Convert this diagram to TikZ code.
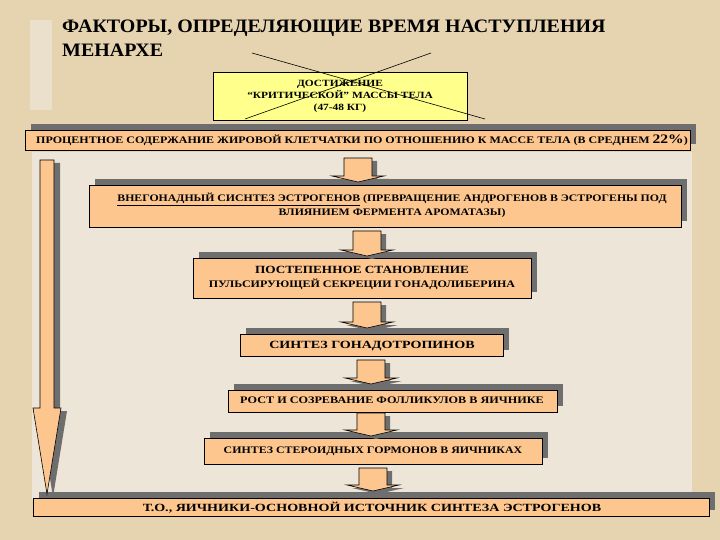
\documentclass[tikz,border=0pt]{standalone}
\usepackage{fontspec}
\usepackage{graphicx}
\setmainfont{Liberation Serif}
\usetikzlibrary{calc}
\definecolor{bgc}{HTML}{E6D3B0}
\definecolor{panel}{HTML}{EDE6D8}
\definecolor{peach}{HTML}{FDC68E}
\definecolor{shad}{HTML}{6E6E6E}
\definecolor{yel}{HTML}{FFFF8C}
\tikzset{
  bx/.style={draw=black,line width=0.6pt,fill=peach},
  sh/.style={fill=shad},
  txt/.style={font=\bfseries,align=center,inner sep=0pt},
}
\newcommand\T[4]{\scalebox{#2}[1]{\fontsize{#1}{#3}\selectfont\begin{tabular}{@{}c@{}}#4\end{tabular}}}
\newcommand\mybox[5]{%
  \fill[sh] (#2+6,#3-6) rectangle (#4+6,#5-6);
  \draw[bx] (#2,#3) rectangle (#4,#5);
  \coordinate (#1) at ({(#2+#4)/2},{(#3+#5)/2});}
\newcommand\barr[3]{%
  \foreach \dx/\dy/\st in {5/3/sh,0/0/bx}{
  \path[\st] (#1-14+\dx,#2+\dy) -- (#1+14+\dx,#2+\dy) -- (#1+14+\dx,#3-6+\dy) -- (#1+26+\dx,#3-6+\dy)
   -- (#1+\dx,#3+\dy) -- (#1-26+\dx,#3-6+\dy) -- (#1-14+\dx,#3-6+\dy) -- cycle;}}
\begin{document}
\begin{tikzpicture}[x=1pt,y=-1pt]
\fill[bgc] (0,0) rectangle (720,540);
\useasboundingbox (0,0) rectangle (720,540);
\fill[panel!70!bgc] (30,20) rectangle (52,110);
\fill[panel] (32,152) rectangle (692,500);
\node[anchor=north west,txt,align=left] (title) at (62,16)
 {\scalebox{1.05}[1]{\fontsize{19}{24}\selectfont\begin{tabular}{@{}l@{}}ФАКТОРЫ, ОПРЕДЕЛЯЮЩИЕ ВРЕМЯ НАСТУПЛЕНИЯ\\МЕНАРХЕ\end{tabular}}};
\draw[fill=yel,line width=0.6pt] (213,72) rectangle (467,120);
\node[txt] (mass) at (340,96) {\T{9.5}{1.2}{12}{ДОСТИЖЕНИЕ\\“КРИТИЧЕСКОЙ” МАССЫ ТЕЛА\\(47-48 КГ)}};
\draw[line width=0.6pt] (252,53) -- (485,119);
\draw[line width=0.6pt] (431,53) -- (245,119);
\mybox{b1}{25}{130}{690}{150}
\node[txt] (t1) at (362,141) {\T{10}{1.2}{12}{ПРОЦЕНТНОЕ СОДЕРЖАНИЕ ЖИРОВОЙ КЛЕТЧАТКИ ПО ОТНОШЕНИЮ К МАССЕ ТЕЛА (В СРЕДНЕМ {\fontsize{13}{13}\selectfont 22\%})}};
\mybox{b2}{89}{185}{681}{227}
\node[txt] (t2) at (392,206) {\T{10}{1.18}{13}{\underline{ВНЕГОНАДНЫЙ СИСНТЕЗ ЭСТРОГЕНОВ} (ПРЕВРАЩЕНИЕ АНДРОГЕНОВ В ЭСТРОГЕНЫ ПОД\\ВЛИЯНИЕМ ФЕРМЕНТА АРОМАТАЗЫ)}};
\mybox{b3}{193}{258}{531}{298}
\node[txt] (t3) at (362,278) {\T{10}{1.2}{14}{{\fontsize{11}{12}\selectfont ПОСТЕПЕННОЕ СТАНОВЛЕНИЕ}\\ПУЛЬСИРУЮЩЕЙ СЕКРЕЦИИ ГОНАДОЛИБЕРИНА}};
\mybox{b4}{240}{334}{503}{356}
\node[txt] (t4) at (372,346) {\T{11}{1.28}{12}{СИНТЕЗ ГОНАДОТРОПИНОВ}};
\mybox{b5}{228}{390}{557}{412}
\node[txt] (t5) at (392,401) {\T{10}{1.22}{12}{РОСТ И СОЗРЕВАНИЕ ФОЛЛИКУЛОВ В ЯИЧНИКЕ}};
\mybox{b6}{204}{438}{542}{464}
\node[txt] (t6) at (373,451) {\T{10}{1.19}{12}{СИНТЕЗ СТЕРОИДНЫХ ГОРМОНОВ В ЯИЧНИКАХ}};
\mybox{b7}{33}{498}{709}{516}
\node[txt] (t7) at (372,509) {\T{11}{1.28}{12}{Т.О., ЯИЧНИКИ-ОСНОВНОЙ ИСТОЧНИК СИНТЕЗА ЭСТРОГЕНОВ}};
\barr{358}{158}{182}
\barr{367}{231}{256}
\barr{367}{302}{328}
\barr{371}{360}{384}
\barr{371}{413}{436}
\barr{373}{468}{491}
\foreach \dx/\dy/\st in {6/3/sh,0/0/bx}{
\path[\st] (40+\dx,160+\dy) -- (54+\dx,160+\dy) -- (54+\dx,408+\dy) -- (61+\dx,408+\dy) -- (47+\dx,494+\dy)
 -- (33+\dx,408+\dy) -- (40+\dx,408+\dy) -- cycle;}
\end{tikzpicture}
\end{document}
